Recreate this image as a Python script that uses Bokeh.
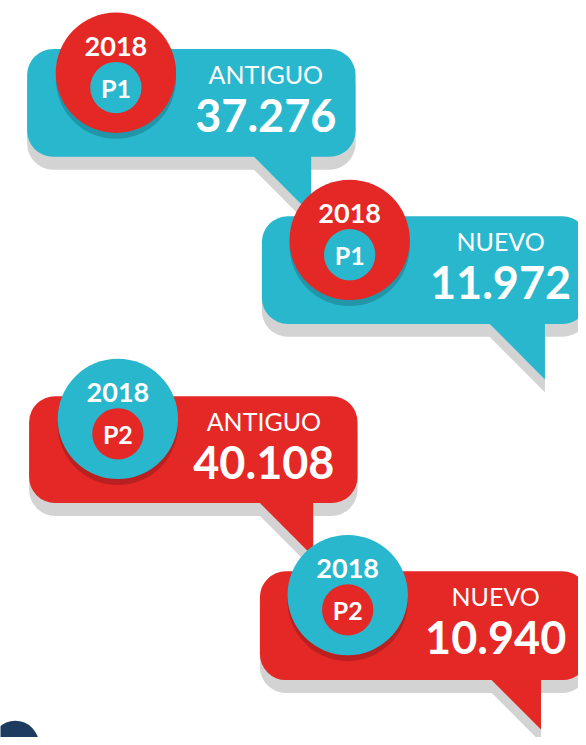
from bokeh.plotting import figure
from bokeh.models import Range1d
from bokeh.embed import file_html
from bokeh.resources import INLINE
from bokeh.core.properties import value

# ---- data ----
years = ["2018", "2018", "2018", "2018"]
periods = ["P1", "P1", "P2", "P2"]
kinds = ["ANTIGUO", "NUEVO", "ANTIGUO", "NUEVO"]
amounts = [37276, 11972, 40108, 10940]

# ---- styles / layout (screen-like coordinates, y downwards) ----
TEAL = "#29B7CD"
RED = "#E32826"
GRAY = "#D3D3D3"
NAVY = "#1C3B5E"
bubble_col = [TEAL, TEAL, RED, RED]
disc_col = [RED, RED, TEAL, TEAL]

# bubble boxes: left, right, top, bottom
box_l = [27, 265, 29, 263]
box_r = [360, 596, 362, 596]
box_t = [49, 218, 400, 577]
box_b = [158, 327, 508, 687]
# tails: right x, tip y
tail_x = [315, 552, 317, 548]
tail_tip = [216, 383, 562, 737]
# discs
disc_x = [117, 354, 119, 352]
disc_y = [73, 242, 423, 601]
disc_r = 61
inner_r = 26
# text centre x
txt_x = [269, 507, 267, 502]
SH = 13

def fmt(v):
    return f"{v:,}".replace(",", ".")

p = figure(width=578, height=737, x_range=Range1d(0, 586), y_range=Range1d(745, 0),
           output_backend="svg", toolbar_location=None, min_border=0)
p.axis.visible = False
p.grid.visible = False
p.outline_line_color = None
p.background_fill_color = "white"

for i in range(4):
    bl, br, bt, bb = box_l[i], box_r[i], box_t[i], box_b[i]
    tx, tip = tail_x[i], tail_tip[i]
    # tail polygon (45 degree left edge)
    txs = [tx - (tip - (bb - 8)), tx, tx]
    tys = [bb - 8, bb - 8, tip]
    # shadow
    p.quad(left=[bl], right=[br], top=[bt + SH], bottom=[bb + SH], fill_color=GRAY,
           line_color=None, border_radius=26)
    p.patch(txs, [y + SH for y in tys], fill_color=GRAY, line_color=None)
    # bubble
    p.quad(left=[bl], right=[br], top=[bt], bottom=[bb], fill_color=bubble_col[i],
           line_color=None, border_radius=26)
    p.patch(txs, tys, fill_color=bubble_col[i], line_color=None)
    # disc shadow + disc
    p.circle(x=[disc_x[i]], y=[disc_y[i] + 6], radius=disc_r, fill_color="black",
             fill_alpha=0.18, line_color=None)
    p.circle(x=[disc_x[i]], y=[disc_y[i]], radius=disc_r, fill_color=disc_col[i], line_color=None)
    p.circle(x=[disc_x[i]], y=[disc_y[i] + 15], radius=inner_r, fill_color=bubble_col[i],
             line_color=None)
    # texts
    p.text(x=[disc_x[i]], y=[disc_y[i] - 27], text=[years[i]], text_font=value("Lato"),
           text_font_style="bold", text_font_size="27px", text_color="white",
           text_align="center", text_baseline="middle")
    p.text(x=[disc_x[i]], y=[disc_y[i] + 15], text=[periods[i]], text_font=value("Lato"),
           text_font_style="bold", text_font_size="25px", text_color="white",
           text_align="center", text_baseline="middle")
    p.text(x=[txt_x[i]], y=[bt + 25], text=[kinds[i]], text_font=value("Lato"),
           text_font_size="25px", text_color="white",
           text_align="center", text_baseline="middle")
    p.text(x=[txt_x[i]], y=[bt + 67], text=[fmt(amounts[i])], text_font=value("Lato"),
           text_font_style="bold", text_font_size="45px", text_color="white",
           text_align="center", text_baseline="middle")

p.circle(x=[15], y=[752], radius=24, fill_color=NAVY, line_color=None)

open("out.html", "w").write(file_html(p, INLINE))
